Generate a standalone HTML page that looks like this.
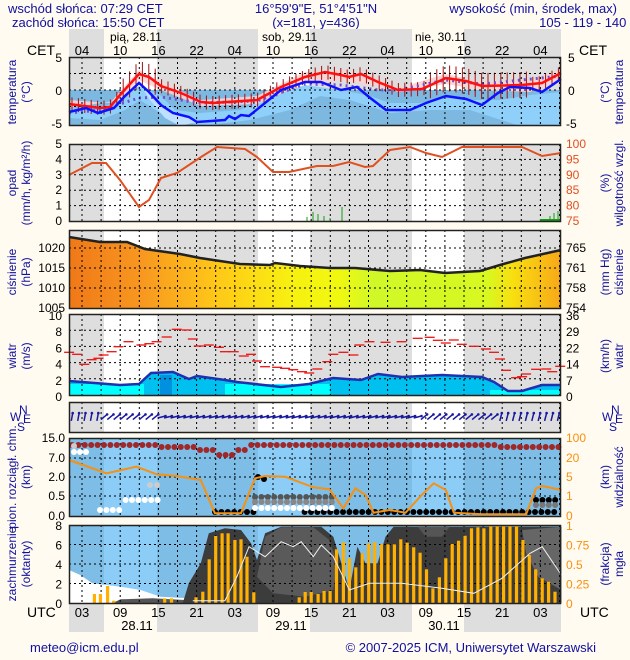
<!DOCTYPE html>
<html><head><meta charset="utf-8"><style>
body{margin:0;background:#fffbf0;}
svg{display:block;font-family:"Liberation Sans",sans-serif;}
</style></head><body>
<svg id="s" width="630" height="660" xmlns="http://www.w3.org/2000/svg"></svg>
<script>
var S=document.getElementById('s');var o='';
var L=69,R=561;
function e(t){o+=t;}
function zx(v){return v/2.49;}
function pts(a,yo){var r=[];for(var i=0;i<a.length;i+=2){r.push(zx(a[i]).toFixed(1)+','+(a[i+1]/3+yo).toFixed(1));}return r.join(' ');}
function ptsO(a){var r=[];for(var i=0;i<a.length;i+=2)r.push(a[i]+','+a[i+1]);return r.join(' ');}
var bands=[[69,104,1],[104,157,0],[157,258,1],[258,310,0],[310,412,1],[412,464,0],[464,561,1]];
function bg(y1,y2,c1,c2){bands.forEach(function(b){e('<rect x="'+b[0]+'" y="'+y1+'" width="'+(b[1]-b[0])+'" height="'+(y2-y1)+'" fill="'+(b[2]?c1:c2)+'"/>');});}
function grid(y1,y2,ys){var t='';for(var x=82;x<R;x+=19.1)t+='<line x1="'+x.toFixed(1)+'" y1="'+y1+'" x2="'+x.toFixed(1)+'" y2="'+y2+'"/>';ys.forEach(function(y){t+='<line x1="'+L+'" y1="'+y+'" x2="'+R+'" y2="'+y+'"/>';});e('<g stroke="#000" stroke-width="1" stroke-dasharray="2,3">'+t+'</g>');}
function frame(y1,y2){e('<rect x="'+L+'.5" y="'+y1+'.5" width="'+(R-L-1)+'" height="'+(y2-y1-1)+'" fill="none" stroke="#222" stroke-width="1.5"/>');}
function txt(x,y,s,a,c,sz){e('<text x="'+x+'" y="'+y+'" text-anchor="'+(a||'start')+'" fill="'+(c||'#000')+'" font-size="'+(sz||12)+'">'+s+'</text>');}
function rot(x,y,lines,c){var t='<text transform="translate('+x+','+y+') rotate(-90)" text-anchor="middle" fill="'+(c||'#1010a0')+'" font-size="12">';lines.forEach(function(l,i){t+='<tspan x="0" dy="'+(i?14:0)+'">'+l+'</tspan>';});e(t+'</text>');}
var nv='#1010a0';
txt(8,13,'wschód słońca: 07:29 CET','start',nv,13);txt(12,27,'zachód słońca: 15:50 CET','start',nv,13);
txt(316,13,'16°59\'9"E, 51°4\'51"N','middle',nv,13);txt(316,27,'(x=181,  y=436)','middle',nv,13);
txt(617,13,'wysokość (min, środek, max)','end',nv,13);txt(590,27,'105 - 119 - 140 m','middle',nv,13);
bg(29,57,'#dedede','#fffbf0');
txt(110,41,'pią, 28.11');txt(262,41,'sob, 29.11');txt(415,41,'nie, 30.11');
for(var i=0;i<13;i++)txt(82+i*38.2,55,['04','10','16','22'][i%4],'middle','#000',13);
txt(27,55,'CET','start','#000',14);txt(579,55,'CET','start','#000',14);
bg(603,632,'#dedede','#fffbf0');
for(var i=0;i<13;i++)txt(82+i*38.2,617,['03','09','15','21'][i%4],'middle','#000',13);
txt(137,630,'28.11','middle','#000',13);txt(291,630,'29.11','middle','#000',13);txt(444,630,'30.11','middle','#000',13);
txt(27,617,'UTC','start','#000',14);txt(580,617,'UTC','start','#000',14);
txt(30,652,'meteo@icm.edu.pl','start',nv,13);txt(596,652,'© 2007-2025 ICM, Uniwersytet Warszawski','end',nv,13);

// TEMPERATURE
bg(57,90,'#dedede','#fff');
e('<rect x="69" y="90" width="492" height="36" fill="#7cb8e0"/>');
e('<polygon fill="#8fd0fa" points="69,108 100,110 120,98 139,86 160,95 175,110 200,113 240,110 257,103 281,93 305,85 341,90 370,96 390,103 420,103 446,98 470,100 500,100 530,95 561,92 561,126 520,126 470,110 430,110 390,113 350,100 320,96 290,110 250,120 200,126 160,113 140,100 125,110 100,120 69,118"/>');
e('<polygon fill="#bfe0ff" points="139,83 149,92 161,105 173,113 189,117 197,122 180,126 165,118 150,100"/>');
e('<polygon fill="#ffd0d0" opacity="0.9" points="69,100 110,103 139,70 161,82 201,100 257,96 305,72 341,70 378,79 398,88 446,74 482,82 530,80 561,70 561,78 530,92 482,90 446,84 398,92 378,86 341,80 305,83 257,104 201,106 161,90 139,80 120,100 69,108"/>');
var tr=[69,104,100,108,110,107,120,95,139,74,149,77,161,86,181,93,201,102,213,103,257,100,281,87,305,77,325,72,341,75,349,77,361,74,378,82,398,90,422,89,446,78,466,81,482,86,522,85,542,83,561,73];
var bars='';function interp(a,x){for(var i=0;i<a.length-2;i+=2){if(x>=a[i]&&x<=a[i+2]){return a[i+1]+(a[i+3]-a[i+1])*(x-a[i])/(a[i+2]-a[i]);}}return a[a.length-1];}
for(var x=72;x<R;x+=6.4){var y=interp(tr,x);var d=(x>120&&x<160)||(x>430&&x<530)?13:7;bars+='<line x1="'+x.toFixed(1)+'" y1="'+(y-d).toFixed(1)+'" x2="'+x.toFixed(1)+'" y2="'+(y+d).toFixed(1)+'"/>';}
e('<g stroke="#a01010" stroke-width="1">'+bars+'</g>');
e('<polyline fill="none" stroke="#7050d0" stroke-width="3" stroke-dasharray="2,4" points="69,113 100,110 139,98 161,97 201,103 257,101 305,84 341,85 378,90 398,90 446,80 482,84 561,76"/>');
grid(57,126,[73.5,90,106.5]);
e('<polyline fill="none" stroke="#ff1010" stroke-width="2.5" points="'+ptsO(tr)+'"/>');
e('<polyline fill="none" stroke="#1010ff" stroke-width="2.5" points="69,112 86,108 98,113 114,108 124,97 139,83 149,92 161,105 173,113 189,117 197,122 225,120 229,116 235,119 241,115 249,116 281,90 305,82 321,82 341,90 357,87 369,97 386,110 410,110 426,103 446,96 466,99 482,105 498,93 510,87 530,88 542,92 561,79"/>');
frame(57,126);
txt(62,62,'5','end','#000',12);txt(62,95,'0','end','#000',12);txt(62,128,'-5','end','#000',12);
txt(568,62,'5','start','#000',12);txt(568,95,'0','start','#000',12);txt(566,128,'-5','start','#000',12);
rot(16,92,['temperatura','(°C)']);rot(609,92,['(°C)','temperatura']);

// PRECIP
bg(144,221,'#dedede','#fff');grid(144,221,[159.4,174.8,190.2,205.6]);
e('<g stroke="#10a010" stroke-width="1"><line x1="307" y1="221" x2="307" y2="217"/><line x1="313" y1="221" x2="313" y2="212"/><line x1="318" y1="221" x2="318" y2="214"/><line x1="324" y1="221" x2="324" y2="216"/><line x1="330" y1="221" x2="330" y2="218"/><line x1="342" y1="221" x2="342" y2="207"/><line x1="550" y1="221" x2="550" y2="216"/><line x1="554" y1="221" x2="554" y2="213"/><line x1="558" y1="221" x2="558" y2="211"/></g>');
e('<rect x="540" y="219" width="21" height="2" fill="#10a010"/>');
e('<polyline fill="none" stroke="#e05020" stroke-width="2" points="69,175 92,163 106,163 120,180 139,207 149,200 161,178 177,173 201,157 217,147 245,149 257,157 273,172 289,172 317,166 333,166 349,162 365,167 373,166 390,150 410,147 426,153 442,157 462,147 522,147 542,156 561,153"/>');
frame(144,222);
['5','4','3','2','1','0'].forEach(function(v,i){txt(62,148+i*15.4,v,'end','#000',12);});
['100','95','90','85','80','75'].forEach(function(v,i){txt(566,148+i*15.4,v,'start','#e05020',12);});
rot(16,183,['opad','(mm/h, kg/m²/h)']);rot(609,183,['(%)','wilgotność wzgl.']);

// PRESSURE
e('<defs><linearGradient id="pg" x1="69" x2="561" gradientUnits="userSpaceOnUse"><stop offset="0" stop-color="#f07818"/><stop offset="0.15" stop-color="#f89820"/><stop offset="0.3" stop-color="#ffc818"/><stop offset="0.45" stop-color="#f8f010"/><stop offset="0.55" stop-color="#f0f810"/><stop offset="0.62" stop-color="#d0f828"/><stop offset="0.85" stop-color="#d8f820"/><stop offset="0.9" stop-color="#f8e010"/><stop offset="1" stop-color="#f8a818"/></linearGradient></defs>');
bg(230,308,'#dedede','#fff');
var pr='69,237 100,242 127,242 145,249 180,254 200,258 240,264 270,265 275,263 300,266 330,268 355,268 390,271 420,270 445,273 480,271 500,265 525,258 561,250';
e('<polygon fill="url(#pg)" points="'+pr+' 561,308 69,308"/>');
grid(230,308,[248,268,288]);
e('<polyline fill="none" stroke="#222" stroke-width="2.5" points="'+pr+'"/>');
frame(230,309);
txt(65,252,'1020','end','#000',12);txt(65,272,'1015','end','#000',12);txt(65,292,'1010','end','#000',12);txt(65,312,'1005','end','#000',12);
txt(566,252,'765','start','#000',12);txt(566,272,'761','start','#000',12);txt(566,292,'758','start','#000',12);txt(566,312,'754','start','#000',12);
rot(16,272,['ciśnienie','(hPa)']);rot(609,272,['(mm Hg)','ciśnienie']);

// WIND
bg(314,395,'#dedede','#fff');
var wl=[69,381,120,385,139,384,151,373,173,372,189,379,197,376,225,380,237,382,281,387,309,384,333,378,361,380,378,374,402,377,442,375,482,377,494,382,508,391,522,391,542,385,561,385];
e('<polygon fill="#00c0f0" points="'+ptsO(wl)+' 561,395 69,395"/>');
e('<rect x="69" y="384" width="75" height="11" fill="#00ffff"/><rect x="225" y="384" width="105" height="11" fill="#00ffff"/><rect x="490" y="390" width="71" height="5" fill="#00ffff"/><rect x="160" y="375" width="12" height="20" fill="#0090e0"/>');
grid(314,395,[330.2,346.4,362.6,378.8]);
var g=[172,382,192,388,210,418,228,404,245,400,258,390,278,380,295,365,320,350,352,360,372,356,390,350,415,336,440,313,465,315,480,342,495,363,520,360,545,367,560,380,582,380,607,393,625,388,640,408,660,425,690,427,710,430,730,434,752,440,770,444,790,432,815,410,830,388,855,382,880,390,895,360,920,350,960,352,1000,350,1040,340,1070,337,1090,346,1110,354,1130,345,1150,358,1180,364,1210,372,1230,382,1245,402,1260,436,1285,458,1300,455,1310,447,1335,433,1360,432,1375,440,1395,424];
var gs='';for(var i=0;i<g.length;i+=2){var x=zx(g[i]),y=g[i+1]/3+225;gs+='<line x1="'+(x-5).toFixed(1)+'" y1="'+y.toFixed(1)+'" x2="'+(x+5).toFixed(1)+'" y2="'+y.toFixed(1)+'"/>';}
e('<g stroke="#f01010" stroke-width="1.3">'+gs+'</g>');
e('<polyline fill="none" stroke="#2030b0" stroke-width="2.5" points="'+ptsO(wl)+'"/>');
frame(314,396);
['10','8','6','4','2','0'].forEach(function(v,i){txt(62,320+i*16.2,v,'end','#000',12);});
['36','29','22','14','7','0'].forEach(function(v,i){txt(566,320+i*16.2,v,'start','#000',12);});
rot(16,356,['wiatr','(m/s)']);rot(609,356,['(km/h)','wiatr']);

// WIND DIR
bg(402,432,'#dedede','#fff');grid(402,432,[]);
var ar='';for(var x=72;x<R;x+=6.4){var a;if(x<100)a=-80;else if(x<160)a=-40;else if(x<420)a=-15;else if(x<500)a=-40;else a=-75;var dx=8*Math.cos(a*Math.PI/180),dy=8*Math.sin(a*Math.PI/180);ar+='<line x1="'+(x-dx/2).toFixed(1)+'" y1="'+(417-dy/2).toFixed(1)+'" x2="'+(x+dx/2).toFixed(1)+'" y2="'+(417+dy/2).toFixed(1)+'"/><circle cx="'+(x+dx/2).toFixed(1)+'" cy="'+(417+dy/2).toFixed(1)+'" r="1.3" fill="#1818a0" stroke="none"/>';}
e('<g stroke="#1818a0" stroke-width="1.5">'+ar+'</g>');
frame(402,433);
[[10],[602]].forEach(function(p){var x=p[0];txt(x+9,414,'N','start',nv,12);txt(x,421,'W','start',nv,12);txt(x+13,423,'E','start',nv,12);txt(x+7,431,'S','start',nv,12);});

// CLOUD BASE
bg(438,516,'#7ebde6','#8ccdf8');grid(438,516,[458,477,496]);
var d='';function dot(x,y,c){d+='<circle cx="'+x.toFixed(1)+'" cy="'+y.toFixed(1)+'" r="3" fill="'+c+'"/>';}
for(var x=72;x<R;x+=6.4){var y=445;if(x>160&&x<195)y=447;if(x>195&&x<250)y=450;if(x>500&&x<561)y=447;if(x>215&&x<235)y=455;dot(x,y,'#a02828');}
for(var x=215;x<560;x+=6.4){if(x>255&&x<300)continue;dot(x,512,'#000');}
for(var x=255;x<335;x+=6.4){dot(x,497,'#555');dot(x,502,'#888');dot(x,508,'#fff');}
for(var x=100;x<160;x+=6.4){dot(x,504+(x<120?6:-4),'#fff');}
dot(74,452,'#fff');dot(80,452,'#fff');dot(86,452,'#fff');dot(74,446,'#ccc');
dot(150,485,'#ccc');dot(157,485,'#ccc');dot(258,477,'#000');dot(264,479,'#000');
for(var x=536;x<561;x+=6.4){dot(x,500,'#000');dot(x,505,'#777');}
e(d);
e('<polyline fill="none" stroke="#f89010" stroke-width="2" points="'+pts([172,210,265,250,340,230,390,253,440,258,500,270,535,370,600,370,635,265,660,258,710,260,780,292,820,298,855,355,885,295,910,315,930,368,970,360,1010,368,1050,315,1080,280,1110,300,1130,368,1200,373,1310,373,1335,295,1350,288,1398,300],390)+'"/>');
frame(438,517);
txt(65,442,'15.0','end','#000',12);txt(65,462,'7.0','end','#000',12);txt(65,481,'2.0','end','#000',12);txt(65,500,'0.5','end','#000',12);txt(65,520,'0.0','end','#000',12);
txt(566,442,'100','start','#f89010',12);txt(566,462,'20','start','#f89010',12);txt(566,481,'5','start','#f89010',12);txt(566,500,'1','start','#f89010',12);txt(566,520,'0','start','#f89010',12);
rot(16,477,['pion. rozciągł. chm.','(km)']);rot(609,477,['(km)','widzialność']);

// CLOUD COVER
bg(525,603,'#7ebde6','#8ccdf8');
e('<polygon fill="#fff" points="'+pts([172,540,200,555,230,580,300,590,350,600,400,620,470,625,470,640,172,640],390)+'"/>');
e('<polygon fill="#555" points="'+pts([280,640,300,628,380,625,460,630,470,640],390)+'"/>');
e('<polygon fill="#3c3c3c" points="'+pts([455,640,470,580,500,520,520,430,560,415,600,420,625,460,640,510,660,430,700,410,800,410,830,440,850,520,870,600,890,470,910,520,940,520,960,440,980,410,1398,410,1398,640],390)+'"/>');
e('<polygon fill="#5a5a5a" points="'+pts([640,560,660,440,700,412,780,412,820,450,840,520,830,600,760,620,680,610],390)+'"/>');
e('<polygon fill="#555" points="'+pts([1040,410,1120,410,1100,440,1060,440],390)+'"/>');
e('<polygon fill="#666" points="'+pts([1300,420,1398,410,1398,600,1340,560,1310,490],390)+'"/>');
grid(525,603,[544.5,564,583.5]);
var b=[235,612,250,612,268,588,283,632,410,625,427,625,488,622,505,605,521,508,537,438,553,430,568,430,585,450,600,448,615,500,632,607,745,622,760,606,775,606,792,612,807,603,822,603,838,478,855,457,870,505,886,532,902,490,918,460,933,457,950,463,966,463,982,463,998,448,1014,458,1030,472,1046,488,1062,538,1078,595,1094,562,1110,505,1126,462,1142,452,1158,437,1174,415,1190,412,1205,415,1222,407,1238,407,1254,407,1270,407,1286,407,1302,450,1318,495,1334,538,1350,565,1366,575,1382,605];
var bs='';for(var i=0;i<b.length;i+=2){var x=zx(b[i]),y=b[i+1]/3+390;bs+='<rect x="'+(x-1.6).toFixed(1)+'" y="'+y.toFixed(1)+'" width="3.2" height="'+(603-y).toFixed(1)+'"/>';}
e('<g fill="#ffb000">'+bs+'</g>');
e('<polyline fill="none" stroke="#f0f0f0" stroke-width="1" points="'+pts([480,632,560,632,590,560,620,470,660,500,700,455,730,470,750,455,780,500,800,465,830,500,870,600,920,580,1000,580,1100,595,1180,610,1250,565,1320,490,1350,470,1398,555],390)+'"/>');
frame(525,604);
['8','6','4','2','0'].forEach(function(v,i){txt(62,530+i*19.5,v,'end','#000',12);});
['1','0.75','0.5','0.25','0'].forEach(function(v,i){txt(566,530+i*19.5,v,'start','#f89010',12);});
rot(16,564,['zachmurzenie','(oktanty)']);rot(609,564,['(frakcja)','mgła']);
S.innerHTML=o;
</script>
</body></html>
